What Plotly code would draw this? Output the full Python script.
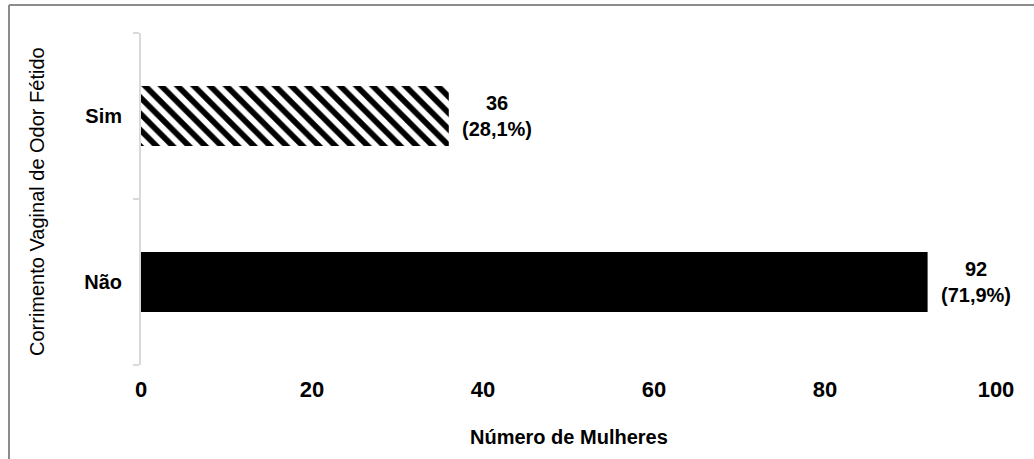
import plotly.graph_objects as go

# Respostas e número de mulheres em cada grupo
categorias = ["Não", "Sim"]
mulheres = [92, 36]
padroes = ["", "\\"]

total = sum(mulheres)
rotulos = [
    f"<b>{v}<br>({v / total * 100:.1f}%)</b>".replace(".", ",") for v in mulheres
]

W, H = 1034, 459
L, R, T, B = 141, 38, 33, 94
pw, ph = W - L - R, H - T - B


def px_x(p):
    return (p - L) / pw


def px_y(p):
    return (H - B - p) / ph


fonte = "Liberation Sans, Arial, sans-serif"

fig = go.Figure(
    go.Bar(
        y=categorias,
        x=mulheres,
        orientation="h",
        marker=dict(
            color="#000000",
            line=dict(width=0),
            pattern=dict(
                shape=padroes,
                fillmode="replace",
                size=11.5,
                solidity=0.5,
            ),
        ),
        hoverinfo="skip",
    )
)

annotations = [
    dict(
        x=v, y=c, xref="x", yref="y", text=t, showarrow=False,
        xanchor="left", xshift=11, align="center",
        font=dict(family=fonte, size=20, color="#000000"),
    )
    for c, v, t in zip(categorias, mulheres, rotulos)
]
annotations.append(dict(
    x=px_x(37), y=px_y(202), xref="paper", yref="paper",
    text="Corrimento Vaginal de Odor Fétido", textangle=-90,
    showarrow=False, xanchor="center", yanchor="middle",
    font=dict(family=fonte, size=20, color="#000000"),
))
annotations.append(dict(
    x=0.5, y=px_y(437), xref="paper", yref="paper",
    text="<b>Número de Mulheres</b>", showarrow=False,
    xanchor="center", yanchor="middle",
    font=dict(family=fonte, size=20, color="#000000"),
))

# Moldura do gráfico: só as bordas esquerda e superior ficam dentro da página
moldura = dict(color="#8c8c8c", width=2)
shapes = [
    dict(type="line", xref="paper", yref="paper",
         x0=px_x(9), x1=px_x(9), y0=px_y(5), y1=px_y(470), line=moldura),
    dict(type="line", xref="paper", yref="paper",
         x0=px_x(9), x1=px_x(1040), y0=px_y(5), y1=px_y(5), line=moldura),
]

fig.update_layout(
    width=W, height=H,
    margin=dict(l=L, r=R, t=T, b=B),
    paper_bgcolor="#ffffff",
    plot_bgcolor="#ffffff",
    bargap=0.64,
    showlegend=False,
    annotations=annotations,
    shapes=shapes,
    xaxis=dict(
        range=[0, 100], dtick=20, tick0=0,
        showgrid=False, zeroline=False, showline=False,
        ticks="", ticklabelstandoff=9,
        tickfont=dict(family=fonte, size=22, color="#000000", weight="bold"),
    ),
    yaxis=dict(
        categoryorder="array", categoryarray=categorias,
        showgrid=False, zeroline=False,
        showline=True, linecolor="#d9d9d9", linewidth=2,
        ticks="outside", ticklen=6, tickcolor="#d9d9d9", tickwidth=2,
        tickson="boundaries", ticklabelstandoff=13,
        tickfont=dict(family=fonte, size=20, color="#000000", weight="bold"),
    ),
)

fig.write_html("out.html")
